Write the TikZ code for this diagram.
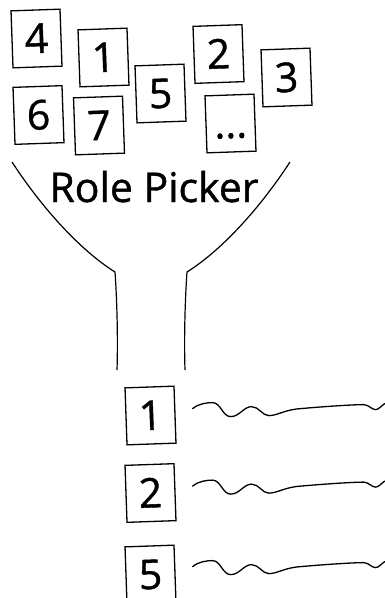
\documentclass[tikz,border=0pt]{standalone}
\usepackage{fontspec}
\setmainfont{Open Sans}
\newfontfamily\sketchfont{Open Sans}[FakeBold=1]
\usetikzlibrary{positioning}
\begin{document}
\begin{tikzpicture}[x=1pt,y=-1pt,
  card/.style={draw, line width=1.3pt, minimum width=49pt, minimum height=57pt,
    inner sep=0pt, rotate=2, text height=29pt, text depth=0pt,
    font=\sketchfont\fontsize{41}{44}\selectfont},
  funnel/.style={line width=1.2pt},
  wave/.style={line width=1.3pt, line cap=round}]
\useasboundingbox (0,0) rectangle (384,598);
% the pile of roles
\node[card] (r4) at (36.5,38.5) {4};
\node[card] (r1) at (103.5,57.5) {1};
\node[card] (r2) at (218.5,54) {2};
\node[card] (r3) at (286.5,77.5) {3};
\node[card] (r6) at (38.5,115) {6};
\node[card] (r7) at (99,125.5) {7};
\node[card] (r5) at (160.5,93.5) {5};
\node[card] (rx) at (230.5,123.5) {...};
% funnel
\path[draw,funnel] (12,162) .. controls (42,208) and (80,250) .. (115,272)
  .. controls (117,300) and (118,340) .. (117,370);
\path[draw,funnel] (290,162) .. controls (260,208) and (222,250) .. (187,272)
  .. controls (185,300) and (184,340) .. (185,370);
\node[anchor=base, font=\sketchfont\fontsize{41}{44}\selectfont] (picker) at (154,202) {Role Picker};
% picked roles
\node[card] (p1) at (150.5,415.5) {1};
\node[card] (p2) at (150.5,493) {2};
\node[card] (p5) at (150.5,574.5) {5};
\coordinate (w1) at ([xshift=17pt,yshift=6pt]p1.east);
\coordinate (w2) at ([xshift=17pt,yshift=6pt]p2.east);
\coordinate (w5) at ([xshift=17pt,yshift=7pt]p5.east);
\foreach \w in {w1,w2,w5}
  \draw[wave, shift={(\w)}] (0,0) .. controls (6,-5) and (14,-6) .. (20,-6)
    .. controls (28,-6) and (30,8) .. (38,8)
    .. controls (47,8) and (51,-2) .. (59,-2)
    .. controls (66,-2) and (70,7) .. (76,7)
    .. controls (85,7) and (92,1) .. (108,0)
    .. controls (130,-2) and (160,-4) .. (171,-4)
    .. controls (176,-4) and (179,1) .. (183,1)
    .. controls (186,1) and (189,-3) .. (192,-5);
\end{tikzpicture}
\end{document}
